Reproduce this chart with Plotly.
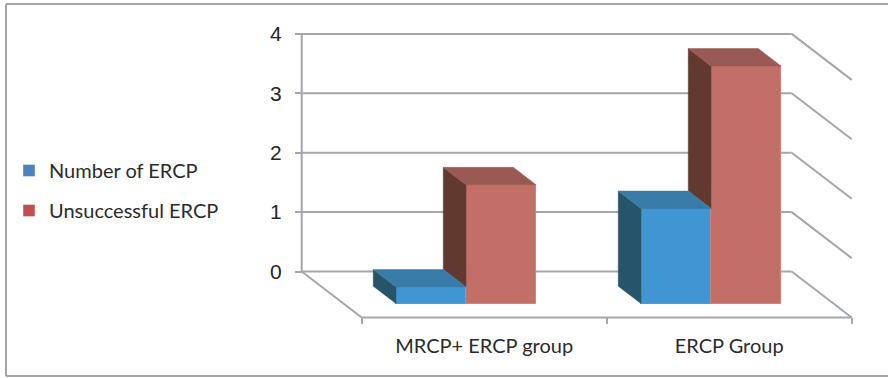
import plotly.graph_objects as go

categories = ["MRCP+ ERCP group", "ERCP Group"]
series_names = ["Number of ERCP", "Unsuccessful ERCP"]
number_of_ercp = [0.28, 1.6]
unsuccessful_ercp = [2.0, 4.0]
y_ticks = [0, 1, 2, 3, 4]

W, H = 888, 378
PX_X0, PX_CAT = 361.7, 245.0      # front-left corner of floor, category width
PX_Y0, PX_UNIT = 271.5, 59.4      # back wall zero line, pixels per value unit
DX, DY = 60 / PX_CAT, 46 / PX_UNIT  # full depth offset of the floor, in axis units
D_FRONT, D_BACK = 0.304, 0.682    # bar depth span within the floor
BAR_W = 70 / PX_CAT

LINE = "#a3a7ab"
FACES = {
    0: dict(front="#4096d2", top="#397ca8", side="#265468", edge="#4a9cd6", legend="#4f81bd"),
    1: dict(front="#c26f68", top="#985a52", side="#62392f", edge="#cf837c", legend="#c0504d"),
}


def proj(x, v, d):
    """Oblique projection: d=0 is the front of the floor, d=1 the back wall."""
    return x - d * DX, v - (1 - d) * DY


fig = go.Figure()

# Wall and floor lines
shapes = []


def seg(p, q, width=2):
    shapes.append(dict(type="line", xref="x", yref="y", layer="below",
                       x0=p[0], y0=p[1], x1=q[0], y1=q[1],
                       line=dict(color=LINE, width=width)))


n = len(categories)
for t in y_ticks:
    seg(proj(0, t, 1), proj(n, t, 1))
    seg(proj(n, t, 1), proj(n, t, 0))
seg(proj(0, y_ticks[0], 1), proj(0, y_ticks[-1], 1))
seg(proj(0, 0, 1), proj(0, 0, 0))
seg(proj(0, 0, 0), proj(n, 0, 0))

# Chart frame, open on the right like the reference crop
for (x0, y0, x1, y1) in [(6 / W, 1 - 4 / H, 1.02, 1 - 4 / H),
                         (6 / W, 1 - 4 / H, 6 / W, 1 - 376 / H),
                         (6 / W, 1 - 376 / H, 1.02, 1 - 376 / H)]:
    shapes.append(dict(type="line", xref="paper", yref="paper", x0=x0, y0=y0, x1=x1, y1=y1,
                       line=dict(color="#a6a6a6", width=2), layer="below"))

# Bars
values = [number_of_ercp, unsuccessful_ercp]


def poly(xs_ys, color):
    fig.add_trace(go.Scatter(
        x=[p[0] for p in xs_ys] + [xs_ys[0][0]],
        y=[p[1] for p in xs_ys] + [xs_ys[0][1]],
        mode="lines", fill="toself", fillcolor=color,
        line=dict(color=color, width=0.5),
        hoverinfo="skip", showlegend=False))


for s in (1, 0):  # red behind, so the blue top covers the red side
    f = FACES[s]
    for c, v in enumerate(values[s]):
        left = c + 0.5 - BAR_W + s * BAR_W
        right = left + BAR_W
        # The left neighbour hides the lower part of a bar's side face
        hidden = values[s - 1][c] if s else 0
        a = proj(left, v, D_FRONT)
        b = proj(right, v, D_FRONT)
        a2 = proj(left, v, D_BACK)
        b2 = proj(right, v, D_BACK)
        e = proj(left, hidden, D_FRONT)
        e2 = proj(left, hidden, D_BACK)
        poly([e, a, a2, e2], f["side"])
        poly([a, b, b2, a2], f["top"])

for s in (0, 1):
    f = FACES[s]
    fig.add_trace(go.Bar(
        x=[c + 0.5 - BAR_W / 2 + s * BAR_W - D_FRONT * DX for c in range(n)],
        y=values[s],
        base=[-(1 - D_FRONT) * DY] * n,
        width=BAR_W,
        marker=dict(color=f["front"], line=dict(color=f["edge"], width=1)),
        showlegend=False, name=series_names[s]))

# Legend entries carry the flat series colours
for s in (0, 1):
    fig.add_trace(go.Bar(x=[None], y=[None], name=series_names[s],
                         legendgroup=series_names[s],
                         marker=dict(color=FACES[s]["legend"])))

LABEL_FONT = dict(family="Lato, Carlito, sans-serif", size=20, color="#2b2b2b")

fig.update_layout(
    width=W, height=H,
    margin=dict(l=0, r=0, t=0, b=0),
    autosize=False,
    paper_bgcolor="white", plot_bgcolor="white",
    barmode="overlay",
    bargap=0,
    shapes=shapes,
    showlegend=True,
    legend=dict(x=9 / W, y=1 - 151 / H, xanchor="left", yanchor="top",
                font=LABEL_FONT, tracegroupgap=11, bgcolor="rgba(0,0,0,0)",
                traceorder="grouped", itemclick=False, itemdoubleclick=False),
    xaxis=dict(
        range=[-PX_X0 / PX_CAT, (W - PX_X0) / PX_CAT],
        domain=[0, 1], anchor="free", position=1 - 317.3 / H,
        showgrid=False, zeroline=False, showline=False,
        tickmode="array",
        tickvals=[i + 0.5 for i in range(n)], ticktext=categories,
        ticks="outside", ticklen=11, tickcolor="rgba(0,0,0,0)",
        tickfont=LABEL_FONT,
        minor=dict(tickmode="array", tickvals=list(range(n + 1)), ticks="outside",
                   ticklen=6, tickwidth=2, tickcolor=LINE, showgrid=False),
    ),
    yaxis=dict(
        range=[-(H - PX_Y0) / PX_UNIT, PX_Y0 / PX_UNIT],
        domain=[0, 1], anchor="free", position=302 / W,
        showgrid=False, zeroline=False, showline=False,
        tickmode="array", tickvals=y_ticks, ticktext=[str(t) for t in y_ticks],
        ticks="outside", ticklen=7, tickwidth=2, tickcolor=LINE,
        ticklabelstandoff=9,
        tickfont=dict(family="Liberation Sans, Arial, sans-serif", size=21, color="#262626"),
    ),
)

fig.write_html("out.html", post_script="document.body.style.margin='0';",
               config=dict(displayModeBar=False))
